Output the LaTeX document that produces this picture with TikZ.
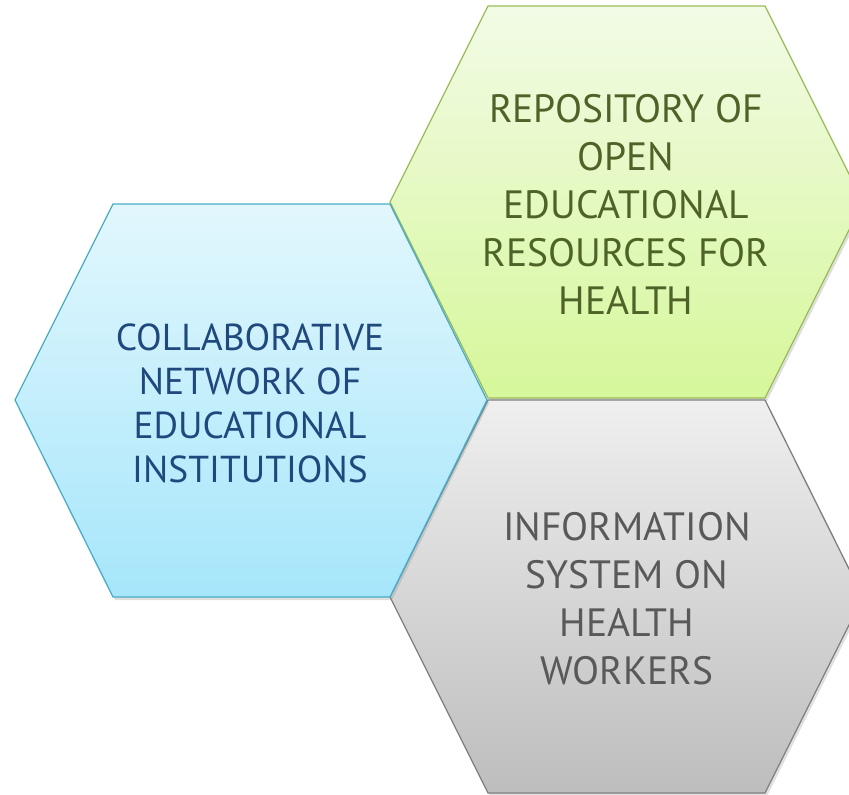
\documentclass[tikz,border=0pt]{standalone}
\usepackage{fontspec}
\setmainfont{PT Sans}
\usetikzlibrary{shadows}

\definecolor{bluetop}{HTML}{E2F7FD}
\definecolor{bluebot}{HTML}{A6E6FB}
\definecolor{blueline}{HTML}{4BACC6}
\definecolor{bluetext}{HTML}{1F497D}
\definecolor{greentop}{HTML}{F2FBE6}
\definecolor{greenbot}{HTML}{D6F79A}
\definecolor{greenline}{HTML}{9BBB59}
\definecolor{greentext}{HTML}{4F6228}
\definecolor{graytop}{HTML}{EFEFEF}
\definecolor{graybot}{HTML}{BDBDBD}
\definecolor{grayline}{HTML}{7F7F7F}
\definecolor{graytext}{HTML}{595959}

\tikzset{
  hexcell/.style={line width=1.3pt, drop shadow={opacity=0.25, shadow xshift=2pt, shadow yshift=-3pt}},
  hexlabel/.style={align=center, font=\fontsize{39.5}{48}\selectfont}
}

\begin{document}
\begin{tikzpicture}[x=1pt,y=-1pt]
\useasboundingbox (0,0) rectangle (849,795);
\clip (0,0) rectangle (849,795);

% Repository cell (top right)
\path[hexcell, draw=greenline, top color=greentop, bottom color=greenbot]
  (390,202) -- (488,6) -- (765,6) -- (863,202) -- (765,398) -- (488,398) -- cycle;
\node[hexlabel, text=greentext] (repo) at (626,204)
  {REPOSITORY OF\\OPEN\\EDUCATIONAL\\RESOURCES FOR\\HEALTH};

% Information system cell (bottom right)
\path[hexcell, draw=grayline, top color=graytop, bottom color=graybot]
  (390,597) -- (488,400) -- (765,400) -- (863,597) -- (765,793) -- (488,793) -- cycle;
\node[hexlabel, text=graytext] (info) at (627,599)
  {INFORMATION\\SYSTEM ON\\HEALTH\\WORKERS};

% Collaborative network cell (left)
\path[hexcell, draw=blueline, top color=bluetop, bottom color=bluebot]
  (15,400) -- (113,204) -- (390,204) -- (487,400) -- (390,597) -- (113,597) -- cycle;
\node[hexlabel, text=bluetext, font=\fontsize{37.5}{44}\selectfont] (network) at (250,403)
  {COLLABORATIVE\\NETWORK OF\\EDUCATIONAL\\INSTITUTIONS};

\end{tikzpicture}
\end{document}
